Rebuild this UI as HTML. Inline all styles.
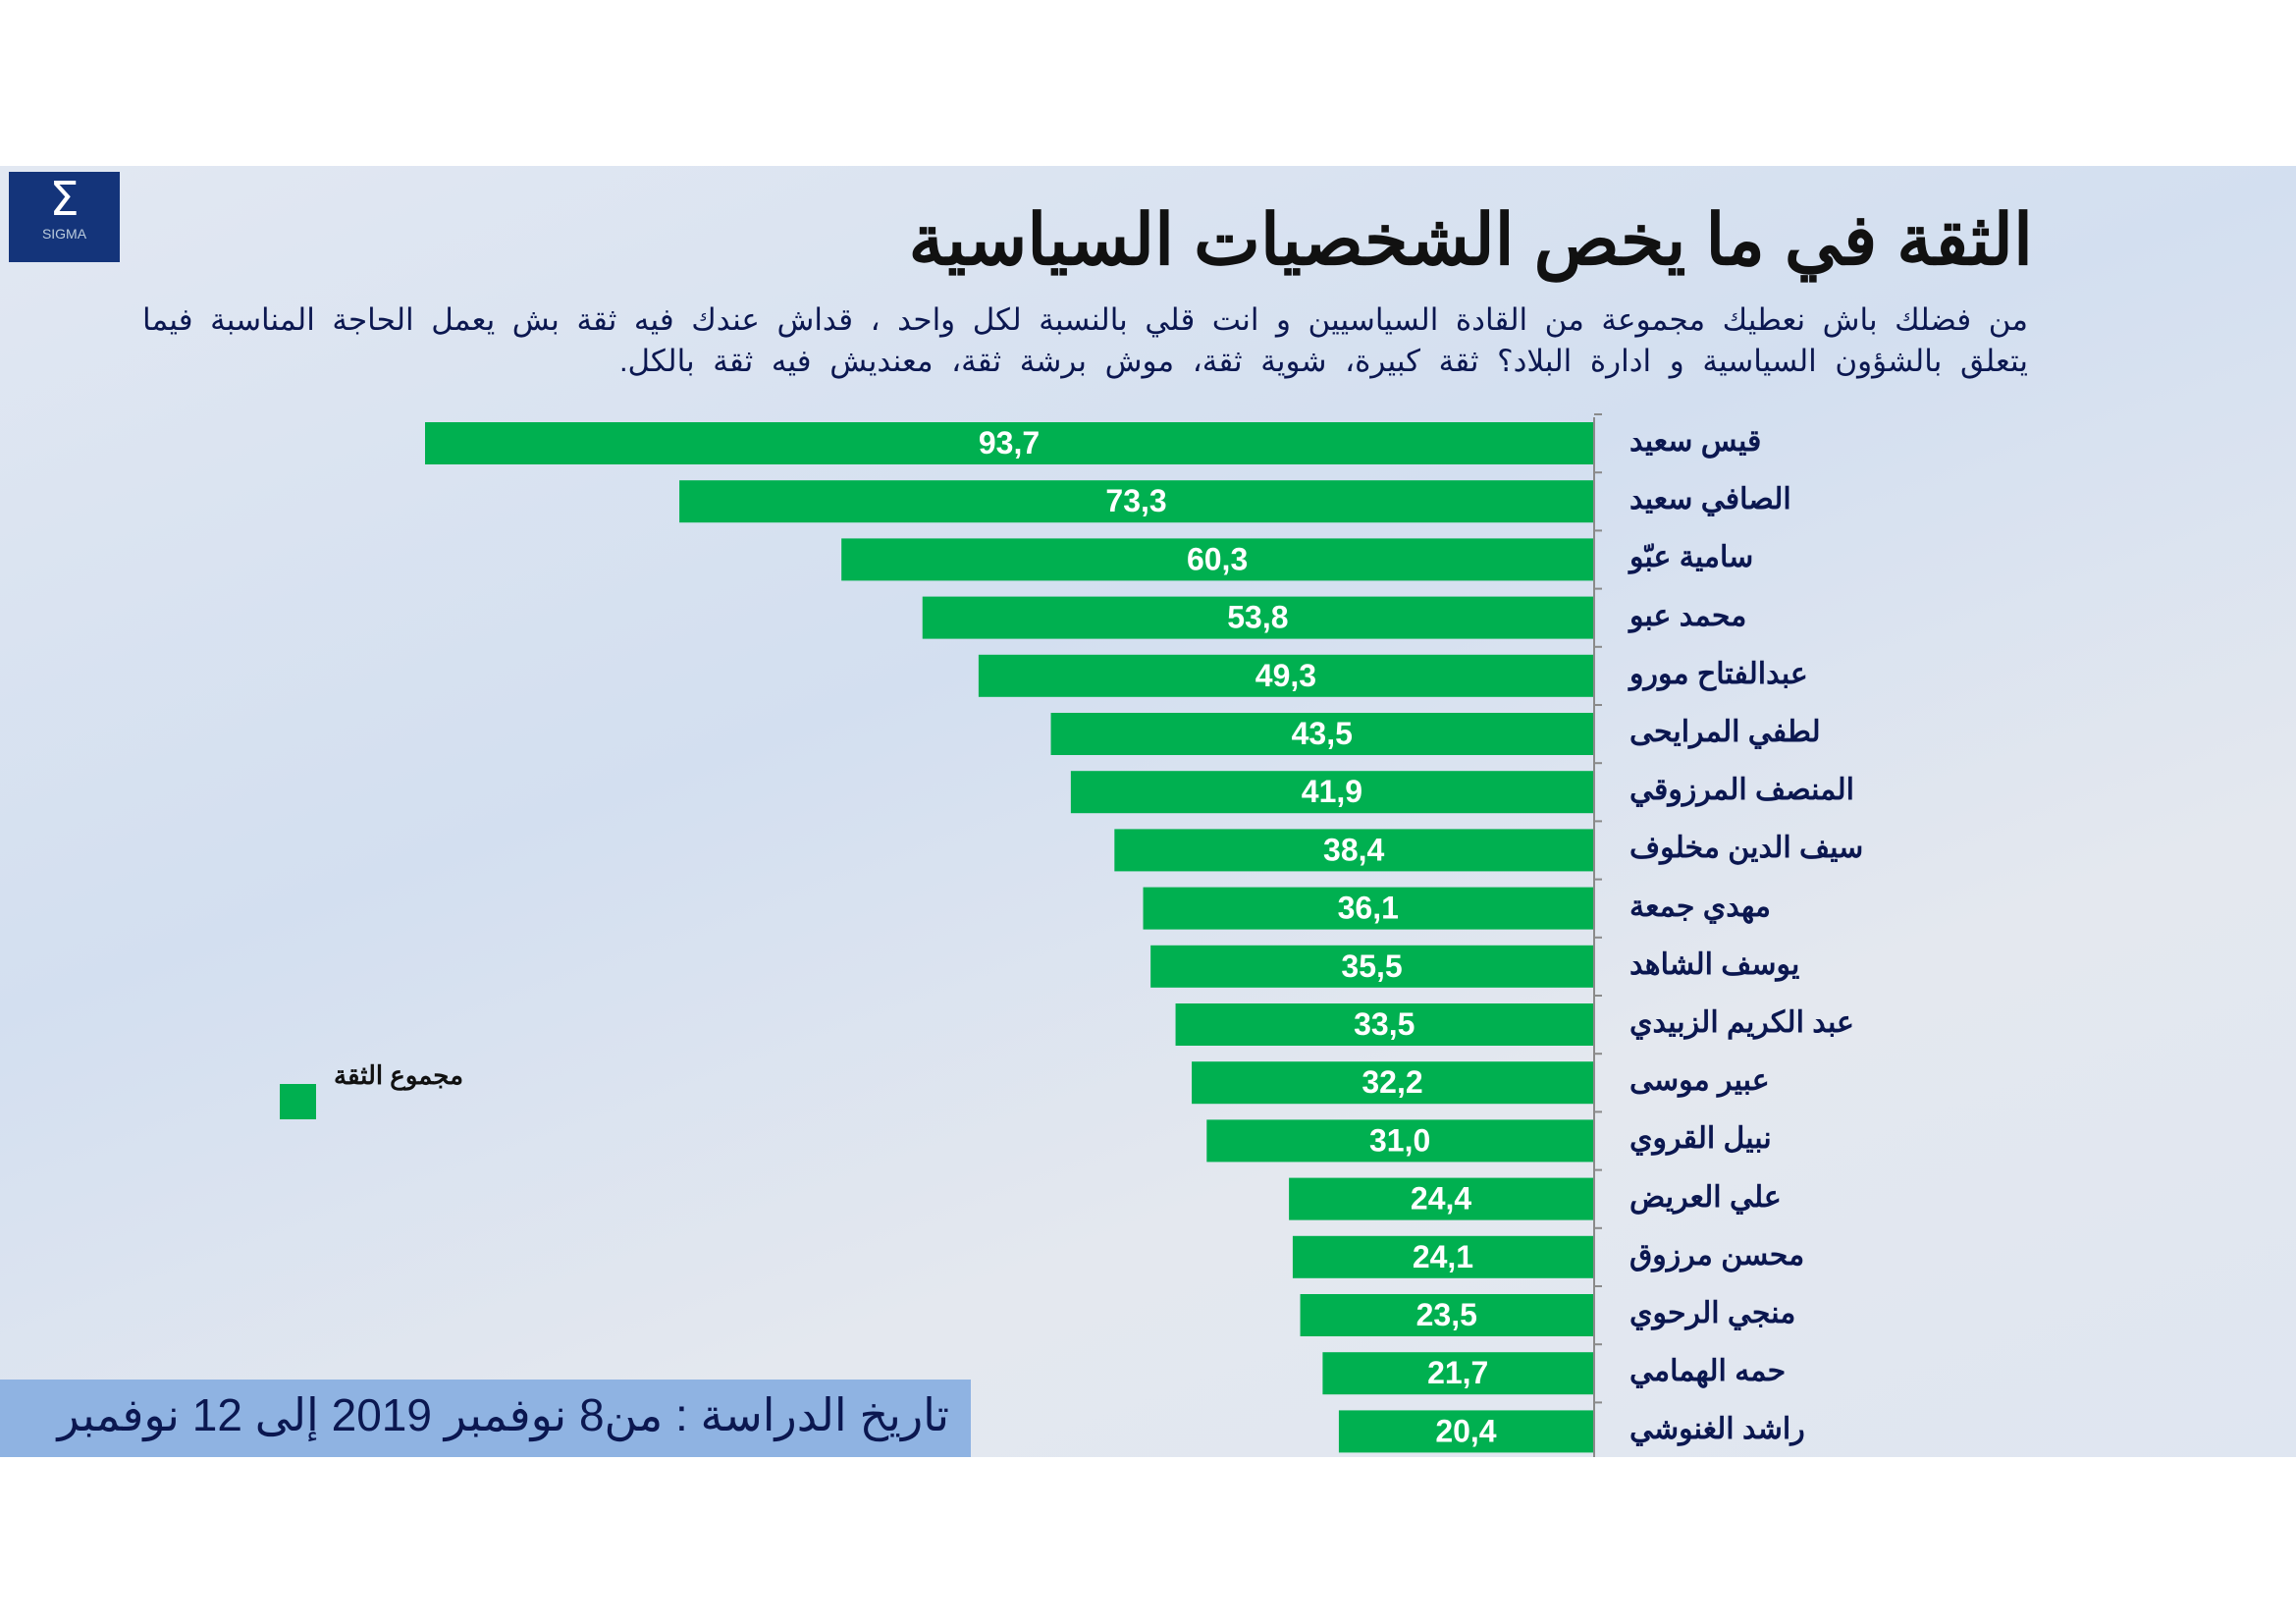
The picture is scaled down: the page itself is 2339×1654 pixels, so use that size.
<!DOCTYPE html>
<html><head><meta charset="utf-8"><style>
body{margin:0;width:2339px;height:1654px;background:#fff;position:relative;overflow:hidden;font-family:"Liberation Sans","Noto Sans CJK SC",sans-serif}
.panel{position:absolute;left:0;top:169px;width:2339px;height:1315px;background:linear-gradient(160deg,#e2e8f2 0%,#d3dff0 40%,#e4e8ef 70%,#dfe6f1 100%)}
.t{position:absolute;direction:rtl;white-space:nowrap;color:#0b1750;font-weight:bold}
</style></head><body>
<div class="panel"></div>
<div style="position:absolute;left:9px;top:175px;width:113px;height:92px;background:#14347a;color:#fff;text-align:center">
<div style="font-size:48px;line-height:56px;font-family:'DejaVu Sans',sans-serif">Σ</div>
<div style="font-size:14px;line-height:14px;color:#bcd">SIGMA</div>
</div>
<div class="t" style="right:268px;top:202px;font-size:72px;color:#111">الثقة في ما يخص الشخصيات السياسية</div>
<div class="t" style="right:273px;top:308px;font-size:31px;font-weight:normal;color:#0b1750;width:1921px;text-align:justify;text-align-last:justify">من فضلك باش نعطيك مجموعة من القادة السياسيين و انت قلي بالنسبة لكل واحد ، قداش عندك فيه ثقة بش يعمل الحاجة المناسبة فيما</div>
<div class="t" style="right:273px;top:350px;font-size:31px;font-weight:normal;color:#0b1750;word-spacing:10px">يتعلق بالشؤون السياسية و ادارة البلاد؟ ثقة كبيرة، شوية ثقة، موش برشة ثقة، معنديش فيه ثقة بالكل.</div>
<svg style="position:absolute;left:0;top:0" width="2339" height="1654">
<line x1="1624" y1="425" x2="1624" y2="1484" stroke="#8a8a8a" stroke-width="2"/>
<g id="bars"></g>
<rect x="285" y="1104" width="37" height="36" fill="#00b050"/>
</svg>
<div id="lab"></div>
<div class="t" style="left:340px;top:1080px;font-size:26px;color:#111">مجموع الثقة</div>
<div style="position:absolute;left:0;top:1405px;width:989px;height:79px;background:#8fb3e2"></div>
<div class="t" style="right:1372px;top:1414px;font-size:46px;font-weight:normal">تاريخ الدراسة : من8  نوفمبر 2019 إلى 12 نوفمبر</div>
<script>
var d=[["قيس سعيد",93.7],["الصافي سعيد",73.3],["سامية عبّو",60.3],["محمد عبو",53.8],["عبدالفتاح مورو",49.3],["لطفي المرايحى",43.5],["المنصف المرزوقي",41.9],["سيف الدين مخلوف",38.4],["مهدي جمعة",36.1],["يوسف الشاهد",35.5],["عبد الكريم الزبيدي",33.5],["عبير موسى",32.2],["نبيل القروي",31.0],["علي العريض",24.4],["محسن مرزوق",24.1],["منجي الرحوي",23.5],["حمه الهمامي",21.7],["راشد الغنوشي",20.4]];
var g="",h="";
d.forEach(function(r,i){var y=430+i*59.2,w=r[1]*12.7,x=1623-w;
g+='<rect x="'+x+'" y="'+y+'" width="'+w+'" height="43" fill="#00b050"/>';
g+='<line x1="1624" y1="'+(y-8)+'" x2="1632" y2="'+(y-8)+'" stroke="#8a8a8a" stroke-width="2"/>';
g+='<text x="'+(x+w/2)+'" y="'+(y+32)+'" text-anchor="middle" fill="#fff" font-weight="bold" font-size="32" font-family="Liberation Sans,sans-serif">'+r[1].toFixed(1).replace(".",",")+'</text>';
h+='<div class="t" style="left:1660px;top:'+(y+2)+'px;font-size:30px">'+r[0]+'</div>';});
document.getElementById("bars").innerHTML=g;document.getElementById("lab").innerHTML=h;
</script>
</body></html>
